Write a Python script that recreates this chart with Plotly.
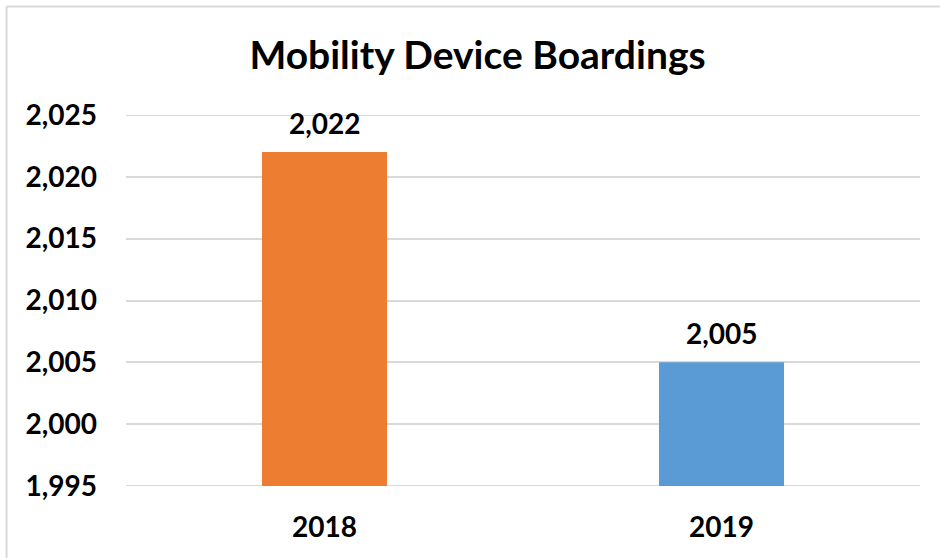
import plotly.graph_objects as go

years = ["2018", "2019"]
boardings = [2022, 2005]
bar_colors = ["#ED7D31", "#5B9BD5"]
y_ticks = [1995, 2000, 2005, 2010, 2015, 2020, 2025]

FONT = "Lato"
GRID = "#D9D9D9"

fig = go.Figure()
fig.add_trace(go.Bar(
    x=years, y=boardings, marker=dict(color=bar_colors, line=dict(width=0)),
    width=0.315, hoverinfo="x+y",
))

for i, v in enumerate(boardings):
    fig.add_annotation(
        x=i, y=v, text=f"<b>{v:,}</b>", showarrow=False,
        yanchor="middle", yshift=29,
        font=dict(family=FONT, size=28, color="#000000"),
    )

# plot area: 2025 at y=115px, 1995 at y=486px
L, T, W, H = 126, 115, 794, 371

def px_x(px):
    return (px - L) / W
def px_y(py):
    return 1 - (py - T) / H

# edge gridlines (plotly omits gridlines at the exact range ends)
for yv in (y_ticks[0], y_ticks[-1]):
    fig.add_shape(type="line", xref="paper", yref="y", x0=0, x1=1, y0=yv, y1=yv,
                  line=dict(color=GRID, width=2), layer="below")

border = dict(color=GRID, width=2)
fig.add_shape(type="line", xref="paper", yref="paper",
              x0=px_x(6.5), x1=px_x(6.5), y0=px_y(560), y1=px_y(6.5), line=border)
fig.add_shape(type="line", xref="paper", yref="paper",
              x0=px_x(6.5), x1=px_x(945), y0=px_y(6.5), y1=px_y(6.5), line=border)

fig.update_layout(
    width=940, height=558,
    margin=dict(l=L, r=940 - L - W, t=T, b=558 - T - H, autoexpand=False),
    paper_bgcolor="white", plot_bgcolor="white",
    showlegend=False,
    title=dict(text="<b>Mobility Device Boardings</b>", xref="container", x=0.508,
               xanchor="center", yref="container", y=1 - 55 / 558, yanchor="middle",
               font=dict(family=FONT, size=39, color="#000000")),
    xaxis=dict(type="category", categoryorder="array", categoryarray=years,
               range=[-0.5, 1.5],
               showgrid=False, showline=False, zeroline=False, ticks="",
               tickfont=dict(family=FONT, size=28, color="#000000", weight="bold"),
               ticklabelstandoff=22),
    yaxis=dict(range=[y_ticks[0], y_ticks[-1]], tickvals=y_ticks, tickformat=",",
               showgrid=True, gridcolor=GRID, gridwidth=2,
               showline=False, zeroline=False, ticks="",
               tickfont=dict(family=FONT, size=28, color="#000000", weight="bold"),
               ticklabelstandoff=28, automargin=False),
)

fig.write_html("out.html", config={"displayModeBar": False},
               post_script="document.body.style.margin='0';document.body.style.padding='0';")
